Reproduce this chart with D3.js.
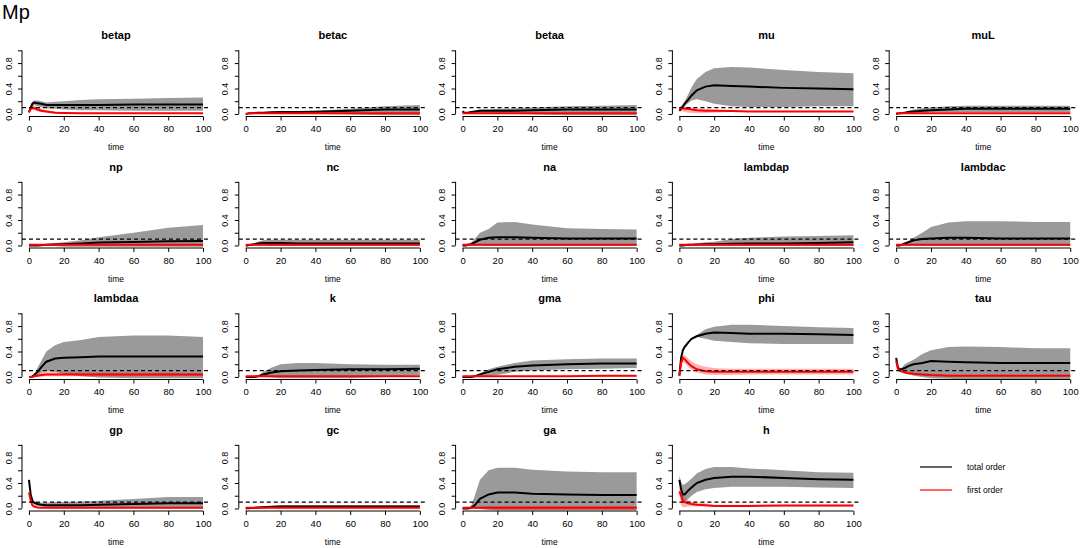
<!DOCTYPE html>
<html>
<head>
<meta charset="utf-8">
<script src="https://cdn.jsdelivr.net/npm/d3@7"></script>
<style>
  body { margin: 0; background: #fff; }
  text { font-family: "Liberation Sans", Arial, sans-serif; fill: #000; }
</style>
</head>
<body>
<div id="chart"></div>
<script>
const params = ["betap", "betac", "betaa", "mu", "muL",
  "np", "nc", "na", "lambdap", "lambdac",
  "lambdaa", "k", "gma", "phi", "tau",
  "gp", "gc", "ga", "h"];

const times = [0, 1, 2, 3, 5, 7, 10, 15, 20, 30, 40, 60, 80, 100];
const xTicks = [0, 20, 40, 60, 80, 100];
const yTicks = [0, 0.2, 0.4, 0.6, 0.8, 1.0];
const yLabelled = [0, 0.4, 0.8];
const threshold = 0.1;

// total order index: mean, lower and upper band (one row per parameter)
const totalMean = [
  [0.03,0.10,0.16,0.18,0.17,0.16,0.14,0.14,0.14,0.14,0.14,0.15,0.15,0.15],
  [0.00,0.005,0.01,0.01,0.015,0.02,0.02,0.025,0.03,0.03,0.035,0.05,0.07,0.07],
  [0.04,0.02,0.02,0.02,0.03,0.04,0.05,0.05,0.05,0.05,0.06,0.07,0.07,0.07],
  [0.05,0.08,0.12,0.16,0.22,0.29,0.37,0.43,0.45,0.44,0.43,0.41,0.40,0.39],
  [0.00,0.005,0.01,0.01,0.02,0.03,0.04,0.05,0.06,0.07,0.08,0.08,0.08,0.08],
  [0.00,0.00,0.00,0.00,0.00,0.005,0.01,0.015,0.02,0.03,0.045,0.055,0.065,0.07],
  [0.00,0.00,0.005,0.01,0.02,0.03,0.04,0.04,0.04,0.03,0.03,0.03,0.03,0.03],
  [0.00,0.00,0.00,0.01,0.02,0.05,0.09,0.12,0.13,0.13,0.12,0.11,0.11,0.11],
  [0.00,0.00,0.00,0.005,0.01,0.01,0.015,0.02,0.02,0.025,0.03,0.03,0.04,0.05],
  [0.00,0.00,0.00,0.01,0.03,0.05,0.08,0.10,0.11,0.12,0.12,0.11,0.11,0.11],
  [0.00,0.00,0.01,0.03,0.08,0.15,0.24,0.29,0.30,0.31,0.32,0.32,0.32,0.32],
  [0.00,0.00,0.00,0.00,0.00,0.01,0.04,0.07,0.09,0.10,0.11,0.12,0.12,0.13],
  [0.00,0.00,0.00,0.00,0.00,0.01,0.04,0.08,0.12,0.16,0.18,0.20,0.21,0.21],
  [0.02,0.30,0.42,0.47,0.54,0.60,0.64,0.68,0.70,0.69,0.68,0.68,0.67,0.66],
  [0.30,0.15,0.12,0.12,0.14,0.17,0.20,0.22,0.25,0.24,0.23,0.22,0.22,0.22],
  [0.45,0.22,0.12,0.09,0.07,0.06,0.05,0.05,0.05,0.05,0.06,0.07,0.08,0.08],
  [0.00,0.002,0.005,0.007,0.01,0.015,0.02,0.025,0.03,0.03,0.03,0.03,0.03,0.03],
  [0.00,0.00,0.00,0.00,0.01,0.05,0.15,0.22,0.25,0.25,0.23,0.22,0.21,0.21],
  [0.45,0.30,0.22,0.22,0.28,0.33,0.40,0.45,0.48,0.50,0.50,0.48,0.46,0.45]
];
const totalLo = [
  [0.02,0.06,0.12,0.14,0.12,0.11,0.09,0.08,0.07,0.06,0.06,0.05,0.05,0.05],
  [0.00,0.00,0.00,0.00,0.00,0.00,0.00,0.00,0.00,0.00,0.00,-0.01,-0.02,-0.02],
  [0.02,0.01,0.01,0.01,0.01,0.01,0.02,0.01,0.01,0.00,-0.01,-0.02,-0.02,-0.02],
  [0.04,0.06,0.09,0.12,0.17,0.21,0.23,0.20,0.16,0.12,0.11,0.11,0.12,0.12],
  [0.00,0.00,0.00,0.00,0.01,0.01,0.02,0.02,0.03,0.03,0.03,0.03,0.03,0.03],
  [0.00,0.00,0.00,0.00,0.00,0.00,0.00,-0.01,-0.02,-0.02,-0.02,-0.02,-0.02,-0.02],
  [0.00,0.00,0.00,0.00,0.00,0.00,0.00,-0.01,-0.01,-0.01,-0.01,-0.01,-0.01,-0.01],
  [0.00,0.00,0.00,0.00,0.00,0.00,0.00,-0.01,-0.01,-0.01,-0.01,-0.01,-0.01,-0.01],
  [0.00,0.00,0.00,0.00,0.00,0.00,0.00,0.00,-0.01,-0.01,-0.01,-0.01,-0.01,-0.01],
  [0.00,0.00,0.00,0.00,0.00,0.00,0.00,-0.01,-0.01,-0.01,-0.01,-0.01,-0.01,-0.01],
  [0.00,0.00,0.00,0.01,0.03,0.07,0.10,0.08,0.05,0.01,-0.01,-0.02,-0.02,-0.02],
  [0.00,0.00,0.00,0.00,0.00,0.00,0.00,-0.01,-0.02,-0.02,-0.02,-0.02,0.00,0.03],
  [0.00,0.00,0.00,0.00,0.00,0.00,0.00,0.02,0.03,0.08,0.10,0.12,0.13,0.14],
  [0.02,0.29,0.41,0.46,0.53,0.59,0.63,0.60,0.57,0.55,0.53,0.52,0.52,0.52],
  [0.28,0.14,0.11,0.10,0.08,0.05,0.02,0.00,-0.02,-0.03,-0.04,-0.04,-0.04,-0.04],
  [0.42,0.20,0.09,0.06,0.04,0.03,0.02,0.02,0.02,0.02,0.02,0.01,0.01,0.01],
  [0.00,0.00,0.00,0.00,0.00,0.00,0.005,0.01,0.01,0.01,0.01,0.01,0.01,0.01],
  [0.00,0.00,0.00,0.00,0.00,0.00,-0.01,-0.02,-0.03,-0.03,-0.03,-0.03,-0.03,-0.03],
  [0.38,0.18,0.10,0.10,0.15,0.20,0.26,0.30,0.32,0.34,0.34,0.34,0.33,0.32]
];
const totalHi = [
  [0.04,0.14,0.19,0.21,0.21,0.20,0.18,0.19,0.20,0.22,0.23,0.24,0.25,0.26],
  [0.00,0.01,0.015,0.02,0.02,0.03,0.03,0.035,0.04,0.045,0.05,0.08,0.12,0.14],
  [0.06,0.03,0.03,0.03,0.04,0.05,0.07,0.07,0.08,0.09,0.10,0.12,0.13,0.14],
  [0.06,0.10,0.15,0.20,0.30,0.42,0.55,0.66,0.72,0.74,0.73,0.69,0.66,0.64],
  [0.00,0.01,0.02,0.02,0.03,0.05,0.07,0.09,0.10,0.12,0.13,0.13,0.13,0.13],
  [0.00,0.00,0.00,0.00,0.005,0.01,0.02,0.04,0.05,0.08,0.13,0.20,0.28,0.32],
  [0.00,0.00,0.01,0.02,0.04,0.06,0.08,0.09,0.09,0.09,0.09,0.09,0.09,0.09],
  [0.00,0.00,0.01,0.02,0.05,0.10,0.20,0.26,0.36,0.37,0.33,0.27,0.26,0.25],
  [0.00,0.00,0.00,0.01,0.02,0.02,0.03,0.05,0.06,0.10,0.12,0.14,0.15,0.16],
  [0.00,0.00,0.01,0.02,0.04,0.07,0.12,0.20,0.29,0.36,0.38,0.38,0.37,0.37],
  [0.00,0.00,0.02,0.05,0.15,0.25,0.40,0.50,0.55,0.58,0.63,0.65,0.65,0.63],
  [0.00,0.00,0.00,0.00,0.005,0.02,0.08,0.15,0.20,0.22,0.22,0.20,0.19,0.19],
  [0.00,0.00,0.00,0.00,0.005,0.02,0.06,0.12,0.16,0.22,0.26,0.28,0.29,0.29],
  [0.02,0.31,0.43,0.48,0.55,0.61,0.66,0.75,0.79,0.82,0.82,0.80,0.78,0.77],
  [0.31,0.16,0.14,0.14,0.20,0.23,0.27,0.36,0.42,0.47,0.48,0.47,0.45,0.45],
  [0.46,0.24,0.15,0.11,0.09,0.09,0.09,0.10,0.10,0.11,0.12,0.15,0.18,0.18],
  [0.00,0.005,0.01,0.015,0.02,0.025,0.03,0.04,0.05,0.05,0.05,0.05,0.05,0.05],
  [0.00,0.00,0.00,0.005,0.05,0.20,0.45,0.60,0.64,0.64,0.61,0.58,0.57,0.57],
  [0.52,0.42,0.37,0.38,0.42,0.47,0.55,0.62,0.65,0.65,0.63,0.60,0.57,0.56]
];

// first order index: mean, lower and upper band
const firstMean = [
  [0.02,0.08,0.10,0.09,0.07,0.05,0.04,0.02,0.015,0.01,0.01,0.01,0.01,0.01],
  [0.005,0.005,0.01,0.01,0.01,0.01,0.01,0.01,0.01,0.01,0.01,0.01,0.01,0.01],
  [0.01,0.01,0.01,0.01,0.01,0.01,0.01,0.01,0.01,0.01,0.01,0.01,0.01,0.01],
  [0.08,0.10,0.09,0.08,0.08,0.07,0.06,0.05,0.05,0.045,0.04,0.04,0.04,0.04],
  [0.01,0.01,0.01,0.01,0.01,0.01,0.01,0.01,0.01,0.01,0.01,0.01,0.01,0.01],
  [0.01,0.01,0.01,0.01,0.01,0.01,0.01,0.01,0.01,0.01,0.01,0.01,0.01,0.01],
  [0.01,0.01,0.01,0.01,0.01,0.01,0.01,0.01,0.01,0.01,0.01,0.01,0.01,0.01],
  [0.01,0.01,0.01,0.01,0.01,0.01,0.01,0.01,0.01,0.01,0.01,0.01,0.01,0.01],
  [0.01,0.01,0.01,0.01,0.01,0.01,0.01,0.01,0.01,0.01,0.01,0.01,0.01,0.01],
  [0.01,0.01,0.01,0.01,0.01,0.01,0.01,0.01,0.01,0.01,0.01,0.01,0.01,0.01],
  [0.00,0.00,0.00,0.01,0.02,0.03,0.04,0.04,0.04,0.04,0.04,0.04,0.04,0.04],
  [0.01,0.01,0.01,0.01,0.01,0.01,0.01,0.01,0.01,0.01,0.01,0.01,0.01,0.01],
  [0.01,0.01,0.01,0.01,0.01,0.01,0.01,0.01,0.01,0.01,0.01,0.01,0.02,0.02],
  [0.02,0.22,0.30,0.28,0.22,0.17,0.12,0.09,0.08,0.08,0.08,0.08,0.08,0.08],
  [0.25,0.13,0.10,0.09,0.07,0.06,0.05,0.04,0.03,0.02,0.02,0.02,0.02,0.02],
  [0.25,0.12,0.05,0.03,0.015,0.01,0.01,0.01,0.01,0.01,0.01,0.01,0.01,0.01],
  [0.01,0.01,0.01,0.01,0.01,0.01,0.01,0.01,0.01,0.01,0.01,0.01,0.01,0.01],
  [0.01,0.01,0.01,0.01,0.01,0.01,0.01,0.01,0.01,0.01,0.01,0.01,0.01,0.01],
  [0.27,0.20,0.12,0.10,0.08,0.07,0.06,0.05,0.04,0.04,0.04,0.045,0.045,0.045]
];
const firstLo = [
  [0.01,0.05,0.06,0.06,0.04,0.03,0.02,0.01,0.00,0.00,0.00,0.00,0.00,0.00],
  [0,0,0,0,0,0,0,0,0,0,0,0,0,0],
  [0,0,0,0,0,0,0,0,0,0,0,0,0,0],
  [0.06,0.05,0.04,0.03,0.02,0.02,0.01,0.01,0.02,0.03,0.03,0.03,0.03,0.03],
  [0,0,0,0,0,0,0,0,0,0,0,0,0,0],
  [0,0,0,0,0,0,0,0,0,0,0,0,0,0],
  [0,0,0,0,0,0,0,0,0,0,0,0,0,0],
  [0,0,0,0,0,0,0,0,0,0,0,0,0,0],
  [0,0,0,0,0,0,0,0,0,0,0,0,0,0],
  [0,0,0,0,0,0,0,0,0,0,0,0,0,0],
  [0,0,0,0,0,0.005,0.01,0.01,0.01,0.01,0.01,0.01,0.01,0.01],
  [0,0,0,0,0,0,0,0,0,0,0,0,0,0],
  [0,0,0,0,0,0,0,0,0,0,0,0,0,0],
  [0.02,0.15,0.24,0.22,0.16,0.11,0.07,0.04,0.03,0.03,0.04,0.04,0.04,0.04],
  [0.23,0.11,0.08,0.07,0.05,0.04,0.03,0.02,0.01,0.01,0.01,0.01,0.01,0.01],
  [0.23,0.10,0.04,0.02,0.005,0,0,0,0,0,0,0,0,0],
  [0,0,0,0,0,0,0,0,0,0,0,0,0,0],
  [0,0,0,0,0,0,-0.01,-0.02,-0.02,-0.02,-0.02,-0.02,-0.02,-0.02],
  [0.22,0.05,0.02,0.02,0.03,0.03,0.03,0.03,0.03,0.03,0.03,0.03,0.03,0.03]
];
const firstHi = [
  [0.03,0.11,0.14,0.13,0.11,0.09,0.06,0.04,0.03,0.02,0.02,0.02,0.02,0.02],
  [0.01,0.01,0.015,0.02,0.02,0.02,0.02,0.02,0.02,0.02,0.02,0.02,0.02,0.02],
  [0.02,0.02,0.02,0.02,0.02,0.02,0.02,0.02,0.02,0.02,0.02,0.02,0.02,0.02],
  [0.10,0.13,0.13,0.12,0.11,0.10,0.09,0.08,0.07,0.06,0.05,0.05,0.05,0.05],
  [0.02,0.02,0.02,0.02,0.02,0.02,0.02,0.02,0.02,0.02,0.02,0.02,0.02,0.02],
  [0.02,0.02,0.02,0.02,0.02,0.02,0.02,0.02,0.02,0.02,0.02,0.02,0.02,0.02],
  [0.02,0.02,0.02,0.02,0.02,0.02,0.02,0.02,0.02,0.02,0.02,0.02,0.02,0.02],
  [0.02,0.02,0.02,0.02,0.02,0.02,0.02,0.02,0.02,0.02,0.02,0.02,0.02,0.02],
  [0.02,0.02,0.02,0.02,0.02,0.02,0.02,0.02,0.02,0.02,0.02,0.02,0.02,0.02],
  [0.02,0.02,0.02,0.02,0.02,0.02,0.02,0.02,0.02,0.02,0.02,0.02,0.02,0.02],
  [0.00,0.00,0.01,0.03,0.05,0.07,0.09,0.08,0.07,0.07,0.07,0.07,0.07,0.06],
  [0.02,0.02,0.02,0.02,0.02,0.02,0.02,0.02,0.02,0.02,0.02,0.02,0.02,0.02],
  [0.02,0.02,0.02,0.02,0.02,0.02,0.02,0.02,0.02,0.02,0.02,0.02,0.03,0.03],
  [0.03,0.28,0.35,0.34,0.29,0.24,0.20,0.16,0.14,0.13,0.13,0.13,0.13,0.13],
  [0.27,0.15,0.12,0.11,0.09,0.08,0.07,0.06,0.05,0.04,0.04,0.04,0.04,0.04],
  [0.27,0.14,0.07,0.04,0.025,0.02,0.02,0.02,0.02,0.02,0.02,0.02,0.02,0.02],
  [0.02,0.02,0.02,0.02,0.02,0.02,0.02,0.02,0.02,0.02,0.02,0.02,0.02,0.02],
  [0.01,0.01,0.01,0.01,0.015,0.02,0.03,0.04,0.04,0.04,0.04,0.04,0.04,0.04],
  [0.32,0.30,0.22,0.17,0.13,0.11,0.09,0.08,0.06,0.06,0.06,0.06,0.06,0.06]
];

const legendLabels = ["total order", "first order"];

const W = 1084, H = 548;
const colStep = 216.8, rowStep = 131.5;

const svg = d3.select("#chart")
  .append("svg")
  .attr("width", W)
  .attr("height", H);

svg.append("text")
  .attr("x", 2)
  .attr("y", 19)
  .style("font-size", "20px")
  .text("Mp");

// local panel scales (R style: 4% padding, axes at the region edge)
let x = d3.scaleLinear().domain([-4, 104]).range([22, 210]);
let y = d3.scaleLinear().domain([-0.04, 1.04]).range([116.5, 47.8]);

let area = d3.area()
  .x(d => x(d.t))
  .y0(d => y(d.lo))
  .y1(d => y(d.hi));

let line = d3.line()
  .x(d => x(d.t))
  .y(d => y(d.v));

params.forEach((p, i) => {
  let col = i % 5, row = Math.floor(i / 5);
  let g = svg.append("g")
    .attr("transform", "translate(" + (col * colStep) + "," + (row * rowStep) + ")");

  let tBand = times.map((t, j) => ({ t: t, lo: totalLo[i][j], hi: totalHi[i][j] }));
  let fBand = times.map((t, j) => ({ t: t, lo: firstLo[i][j], hi: firstHi[i][j] }));
  let tLine = times.map((t, j) => ({ t: t, v: totalMean[i][j] }));
  let fLine = times.map((t, j) => ({ t: t, v: firstMean[i][j] }));

  g.append("path")
    .datum(tBand)
    .attr("fill", "#9a9a9a")
    .attr("d", area);

  g.append("path")
    .datum(tLine)
    .attr("fill", "none")
    .attr("stroke", "#000")
    .attr("stroke-width", 2)
    .attr("d", line);

  g.append("path")
    .datum(fBand)
    .attr("fill", "rgba(255,0,0,0.3)")
    .attr("d", area);

  g.append("path")
    .datum(fLine)
    .attr("fill", "none")
    .attr("stroke", "#ff0000")
    .attr("stroke-width", 2)
    .attr("d", line);

  g.append("line")
    .attr("x1", x(-4))
    .attr("x2", x(104))
    .attr("y1", y(threshold))
    .attr("y2", y(threshold))
    .attr("stroke", "#000")
    .attr("stroke-width", 1.3)
    .attr("stroke-dasharray", "4,3");

  // x axis
  let xa = g.append("g")
    .attr("transform", "translate(0," + y(-0.04) + ")")
    .call(d3.axisBottom(x).tickValues(xTicks).tickSize(4).tickSizeOuter(0));
  xa.select(".domain").attr("d", "M" + x(0) + ",0H" + x(100));
  xa.selectAll("text")
    .attr("y", 15.5)
    .attr("dy", null)
    .style("font-size", "9.5px");

  // y axis
  let ya = g.append("g")
    .attr("transform", "translate(" + x(-4) + ",0)")
    .call(d3.axisLeft(y).tickValues(yTicks).tickSize(4).tickSizeOuter(0)
      .tickFormat(d => yLabelled.some(v => Math.abs(v - d) < 1e-9) ? d3.format(".1f")(d) : ""));
  ya.select(".domain").attr("d", "M0," + y(0) + "V" + y(1));
  ya.selectAll("text")
    .attr("x", null)
    .attr("dy", null)
    .attr("text-anchor", "middle")
    .attr("transform", "translate(-10.5,0) rotate(-90)")
    .style("font-size", "9px");

  g.selectAll(".domain, .tick line").attr("stroke", "#000");

  g.append("text")
    .attr("x", (x(-4) + x(104)) / 2)
    .attr("y", 39)
    .attr("text-anchor", "middle")
    .style("font-size", "11px")
    .style("font-weight", "bold")
    .text(p);

  g.append("text")
    .attr("x", (x(-4) + x(104)) / 2)
    .attr("y", 150)
    .attr("text-anchor", "middle")
    .style("font-size", "8.5px")
    .text("time");
});

// legend in the empty 20th slot
let legend = svg.append("g");
legend.selectAll("line")
  .data(legendLabels)
  .enter()
  .append("line")
  .attr("x1", 920)
  .attr("x2", 952)
  .attr("y1", (d, i) => 467 + i * 23)
  .attr("y2", (d, i) => 467 + i * 23)
  .attr("stroke", (d, i) => i === 0 ? "#000" : "#ff0000")
  .attr("stroke-width", 1.2);

legend.selectAll("text")
  .data(legendLabels)
  .enter()
  .append("text")
  .attr("x", 967)
  .attr("y", (d, i) => 470 + i * 23)
  .style("font-size", "8.5px")
  .text(d => d);
</script>
</body>
</html>
